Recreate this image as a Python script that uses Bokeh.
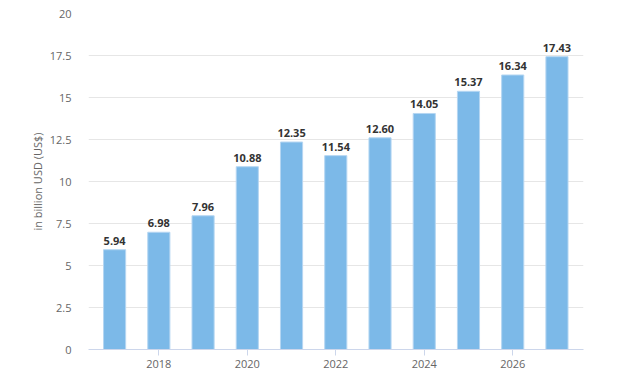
from bokeh.plotting import figure
from bokeh.models import ColumnDataSource, FixedTicker, Range1d
from bokeh.core.properties import value
from bokeh.embed import file_html
from bokeh.resources import INLINE

years = [2017, 2018, 2019, 2020, 2021, 2022, 2023, 2024, 2025, 2026, 2027]
revenue = [5.94, 6.98, 7.96, 10.88, 12.35, 11.54, 12.60, 14.05, 15.37, 16.34, 17.43]
x_ticks = [2018, 2020, 2022, 2024, 2026]
y_ticks = [0, 2.5, 5, 7.5, 10, 12.5, 15, 17.5, 20]
y_tick_labels = ["0", "2.5", "5", "7.5", "10", "12.5", "15", "17.5", "20"]
y_title = "in billion USD (US$)"

FONT = "Open Sans"

src = ColumnDataSource(dict(x=years, top=revenue, label=["%.2f" % v for v in revenue]))

p = figure(
    output_backend="svg", toolbar_location=None,
    frame_width=495, frame_height=336,
    min_border_left=88, min_border_right=20, min_border_top=13, min_border_bottom=30,
    x_range=Range1d(2016.41, 2027.6),
    y_range=Range1d(0, 20),
    background_fill_color="white", border_fill_color="white",
)
p.outline_line_color = None

p.vbar(x="x", top="top", width=0.5, source=src,
       fill_color="#7cb9e8", line_color="#b5d6f2", line_width=1)
p.text(x="x", y="top", text="label", source=src,
       text_align="center", text_baseline="bottom", y_offset=-5,
       text_font=value(FONT), text_font_size="11px", text_font_style="bold",
       text_color="#333333")

# axes
p.xaxis.ticker = FixedTicker(ticks=x_ticks)
p.xaxis.axis_line_color = "#ccd6eb"
p.xaxis.major_tick_line_color = "#ccd6eb"
p.xaxis.major_tick_out = 6
p.xaxis.major_tick_in = 0
p.xaxis.minor_tick_line_color = None
p.xaxis.major_label_text_font = FONT
p.xaxis.major_label_text_font_size = "11px"
p.xaxis.major_label_text_color = "#666666"
p.xaxis.major_label_standoff = 4

p.yaxis.ticker = FixedTicker(ticks=y_ticks)
p.yaxis.major_label_overrides = {t: l for t, l in zip(y_ticks, y_tick_labels)}
p.yaxis.axis_line_color = None
p.yaxis.major_tick_line_color = None
p.yaxis.minor_tick_line_color = None
p.yaxis.major_label_text_font = FONT
p.yaxis.major_label_text_font_size = "11px"
p.yaxis.major_label_text_color = "#666666"
p.yaxis.major_label_standoff = 11
p.yaxis.axis_label = y_title
p.yaxis.axis_label_text_font = FONT
p.yaxis.axis_label_text_font_size = "11px"
p.yaxis.axis_label_text_font_style = "normal"
p.yaxis.axis_label_text_color = "#666666"
p.yaxis.axis_label_standoff = 2

p.xgrid.grid_line_color = None
p.ygrid.grid_line_color = "#e6e6e6"
p.ygrid.grid_line_width = 1

open("out.html", "w").write(file_html(p, INLINE))
